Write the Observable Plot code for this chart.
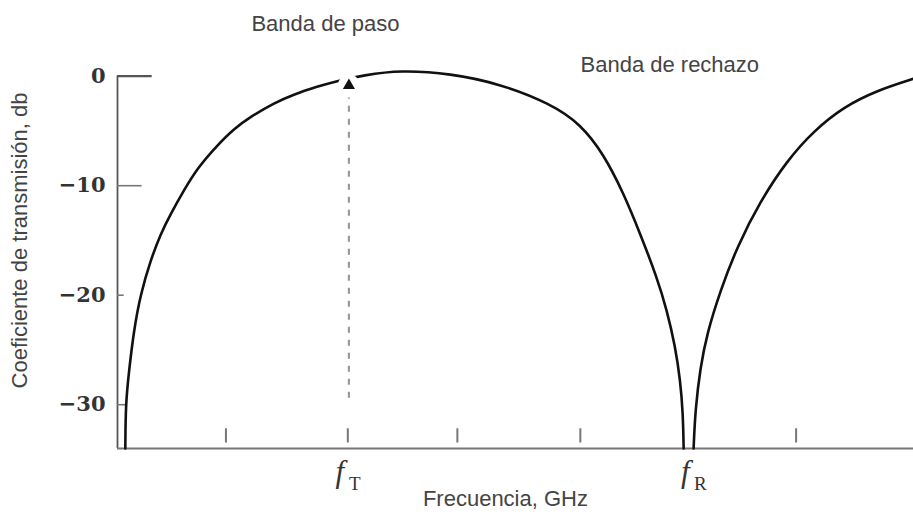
<!DOCTYPE html>
<html>
<head>
<meta charset="utf-8">
<script src="https://cdn.jsdelivr.net/npm/d3@7"></script>
<script src="https://cdn.jsdelivr.net/npm/@observablehq/plot@0.6"></script>
<style>
  html, body { margin: 0; padding: 0; background: #fff; }
  #chart svg { display: block; }
</style>
</head>
<body>
<div id="chart"></div>
<script>
// Transmission coefficient of a filter vs. frequency (relative frequency units).
// Passband lobe, from the low edge up to the rejection notch at f_R.
const freqPass = [0.000, 0.003, 0.033, 0.078, 0.137, 0.226, 0.316, 0.405, 0.525, 0.644, 0.823, 0.972, 1.121, 1.330, 1.509, 1.717, 1.867, 2.135, 2.460, 2.907, 3.354, 3.801, 4.070, 4.278, 4.457, 4.606, 4.756, 4.845, 4.919, 4.964, 4.988, 4.994];
const dbPass   = [-34, -29.9, -26.9, -23.1, -19.9, -16.8, -14.4, -12.6, -10.4, -8.4, -6.3, -4.8, -3.7, -2.45, -1.65, -0.95, -0.5, 0.1, 0.55, 0.25, -0.7, -2.5, -4.35, -7.1, -10.7, -14.4, -18.4, -21.4, -24.7, -27.8, -30.8, -34];

// Lobe that rises again above the notch.
const freqUpper = [5.083, 5.098, 5.143, 5.203, 5.322, 5.471, 5.680, 5.919, 6.157, 6.425, 6.724, 7.048];
const dbUpper   = [-34, -30.5, -26.6, -23.5, -19.6, -15.6, -11.4, -7.7, -5.0, -2.8, -1.3, -0.24];

// Axis ticks
const yTicks = [0, -10, -20, -30];
const xTicks = [0.90, 1.99, 2.97, 4.07, 6.0];

// Marked frequencies
const markedFreqs = [
  {x: 2.0, name: "T"},
  {x: 5.09, name: "R"}
];
const fT = markedFreqs[0].x;

// Text
const bandPassLabel = "Banda de paso";
const bandStopLabel = "Banda de rechazo";
const xTitle = "Frecuencia, GHz";
const yTitle = "Coeficiente de transmisión, db";

const xDomain = [-0.07, 7.05];
const yDomain = [-34, 6];

const curve = [
  ...freqPass.map((f, i) => ({f, db: dbPass[i], lobe: "pass"})),
  ...freqUpper.map((f, i) => ({f, db: dbUpper[i], lobe: "upper"}))
];

const sans = "Liberation Sans, Arial, sans-serif";
const serif = "Liberation Serif, Times New Roman, serif";

const chart = Plot.plot({
  width: 913,
  height: 517,
  marginLeft: 117,
  marginRight: 0,
  marginTop: 10,
  marginBottom: 69,
  x: {domain: xDomain, axis: null},
  y: {domain: yDomain, axis: null},
  style: {background: "#fff", fontFamily: sans},
  marks: [
    // y axis labels
    Plot.axisY(yTicks, {
      tickSize: 0, tickPadding: 12, label: null,
      fontFamily: "DejaVu Serif, serif", fontWeight: "bold", fontSize: 21, fill: "#333",
      tickFormat: d => d === 0 ? "0" : "\u2212" + Math.abs(d)
    }),
    // axis lines
    Plot.ruleX([xDomain[0]], {y1: yDomain[0], y2: 0, stroke: "#555", strokeWidth: 1.8}),
    Plot.ruleY([yDomain[0]], {stroke: "#777", strokeWidth: 1.8}),
    // inward y ticks
    Plot.ruleY([0], {x1: xDomain[0], x2: 0.24, stroke: "#555", strokeWidth: 2.2}),
    Plot.ruleY([-10], {x1: xDomain[0], x2: 0.15, stroke: "#777", strokeWidth: 1.6}),
    Plot.ruleY([-20], {x1: xDomain[0], x2: -0.01, stroke: "#777", strokeWidth: 1.6}),
    Plot.ruleY([-30], {x1: xDomain[0], x2: 0.02, stroke: "#777", strokeWidth: 1.6}),
    // inward x ticks
    Plot.ruleX(xTicks, {y1: -33.5, y2: -32.2, stroke: "#777", strokeWidth: 2}),
    // dashed marker at f_T
    Plot.ruleX([fT], {y1: -29.4, y2: -2, stroke: "#999", strokeWidth: 2.2, strokeDasharray: "6,7"}),
    // transmission curve
    Plot.line(curve, {x: "f", y: "db", z: "lobe", curve: "basis", stroke: "#111", strokeWidth: 2.6}),
    // arrow head at f_T with a white gap around it
    Plot.dot([fT], {x: d => d, y: -0.85, r: 11, fill: "#fff", stroke: null}),
    Plot.dot([fT], {x: d => d, y: -0.85, r: 4.5, symbol: "triangle", fill: "#111", stroke: null}),
    // band annotations
    Plot.text([bandPassLabel], {x: 1.79, y: 4.8, fontSize: 22, fill: "#444", fontFamily: sans}),
    Plot.text([bandStopLabel], {x: 4.87, y: 1.0, fontSize: 22, fill: "#444", fontFamily: sans}),
    // f_T, f_R labels
    Plot.text(markedFreqs, {x: "x", text: () => "f", frameAnchor: "bottom", lineAnchor: "bottom", dx: -9, dy: 33,
      fontFamily: serif, fontStyle: "italic", fontSize: 31, fill: "#333"}),
    Plot.text(markedFreqs, {x: "x", text: "name", frameAnchor: "bottom", lineAnchor: "bottom", dx: 6, dy: 41,
      fontFamily: serif, fontSize: 19, fill: "#333"}),
    // axis titles
    Plot.text([xTitle], {x: 3.40, frameAnchor: "bottom", dy: 57, fontSize: 22, fill: "#444", fontFamily: sans}),
    Plot.text([yTitle], {frameAnchor: "left", textAnchor: "middle", rotate: -90, dx: -98, dy: 11, fontSize: 22, fill: "#444", fontFamily: sans})
  ]
});

document.getElementById("chart").append(chart);
</script>
</body>
</html>
